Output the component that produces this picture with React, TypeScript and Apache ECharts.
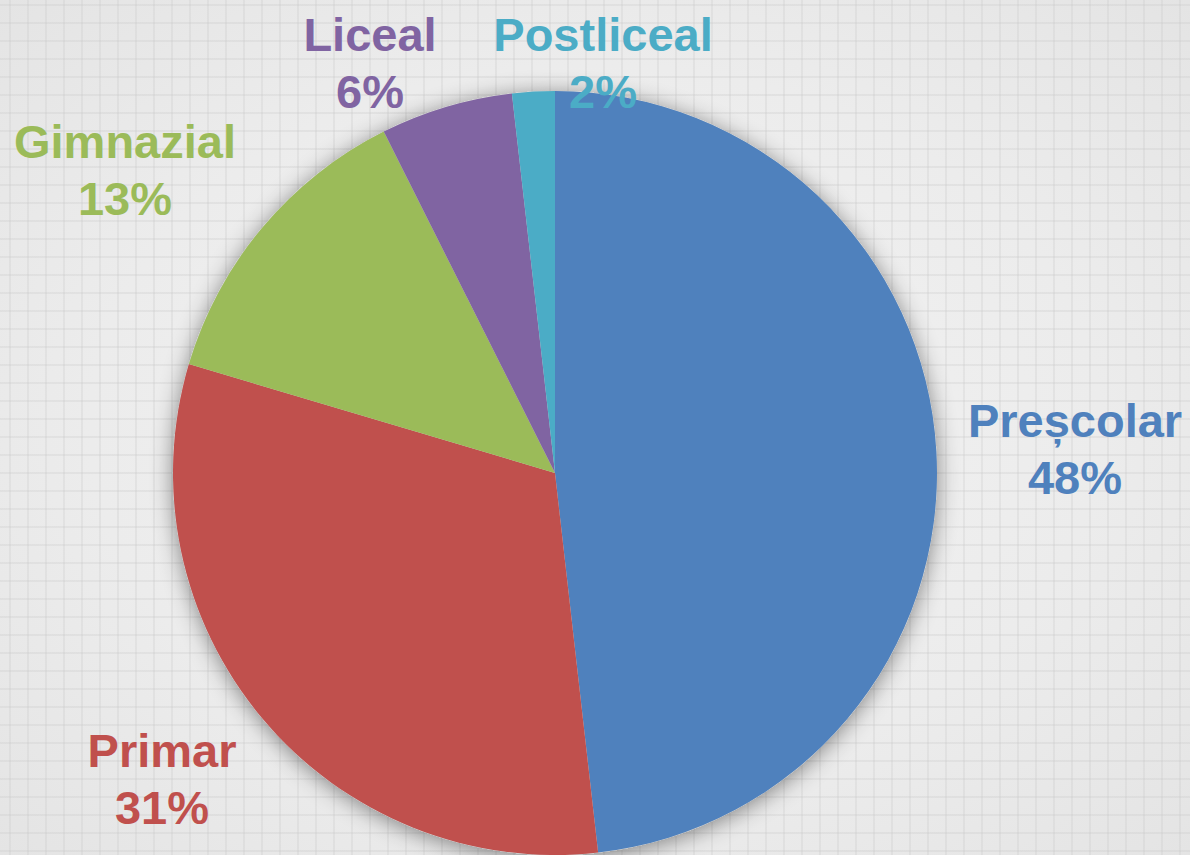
import React, { useEffect, useRef } from "react";
import * as echarts from "echarts";

const categories = ["Preșcolar", "Primar", "Gimnazial", "Liceal", "Postliceal"];
const values = [48.2, 31.4, 13.0, 5.6, 1.8];
const colors = ["#4F81BD", "#C0504D", "#9BBB59", "#8064A2", "#4BACC6"];
// label anchor positions (centre of the two-line label), in px
const labelPos = [
  [1075, 449],
  [162, 779],
  [125, 170],
  [370, 63],
  [603, 63],
];

export default function App() {
  const ref = useRef<HTMLDivElement>(null);
  useEffect(() => {
    if (!ref.current) return;
    const chart = echarts.init(ref.current, null, { renderer: "svg" });
    const total = values.reduce((a, b) => a + b, 0);
    chart.setOption({
      animation: false,
      series: [
        {
          type: "pie",
          silent: true,
          center: [555, 473],
          radius: 382,
          z: 1,
          label: { show: false },
          labelLine: { show: false },
          itemStyle: {
            color: "#d8d8d8",
            shadowBlur: 22,
            shadowColor: "rgba(0,0,0,0.45)",
            shadowOffsetY: 3,
          },
          data: [{ name: "shadow", value: total }],
        },
        {
          type: "pie",
          center: [555, 473],
          radius: 382,
          z: 2,
          startAngle: 90,
          clockwise: true,
          percentPrecision: 0,
          itemStyle: { borderWidth: 0 },
          labelLine: { show: false },
          label: {
            show: true,
            position: "outside",
            formatter: "{b}\n{d}%",
            fontFamily: "Liberation Sans, Arial, sans-serif",
            fontWeight: "bold",
            fontSize: 47,
            lineHeight: 57,
            align: "center",
            overflow: "none",
            width: 400,
          },
          labelLayout: (params: any) => {
            const p = labelPos[params.dataIndex];
            return { x: p[0], y: p[1], align: "center", verticalAlign: "middle" };
          },
          data: categories.map((c, i) => ({
            name: c,
            value: values[i],
            itemStyle: { color: colors[i] },
            label: { color: colors[i] },
          })),
        },
      ],
    });
    return () => chart.dispose();
  }, []);

  const bg =
    "linear-gradient(to right, rgba(200,200,200,0.28) 2px, transparent 2px) 9px 0 / 18px 18px, " +
    "linear-gradient(to bottom, rgba(200,200,200,0.28) 2px, transparent 2px) 0 4px / 18px 18px, " +
    "radial-gradient(ellipse at center, #f3f3f3 0%, #ececec 60%, #e4e4e4 100%)";

  return (
    <div
      style={{
        position: "absolute",
        left: 0,
        top: 0,
        width: 1190,
        height: 855,
        background: bg,
        overflow: "hidden",
      }}
    >
      <div ref={ref} style={{ width: 1190, height: 855 }} />
    </div>
  );
}
